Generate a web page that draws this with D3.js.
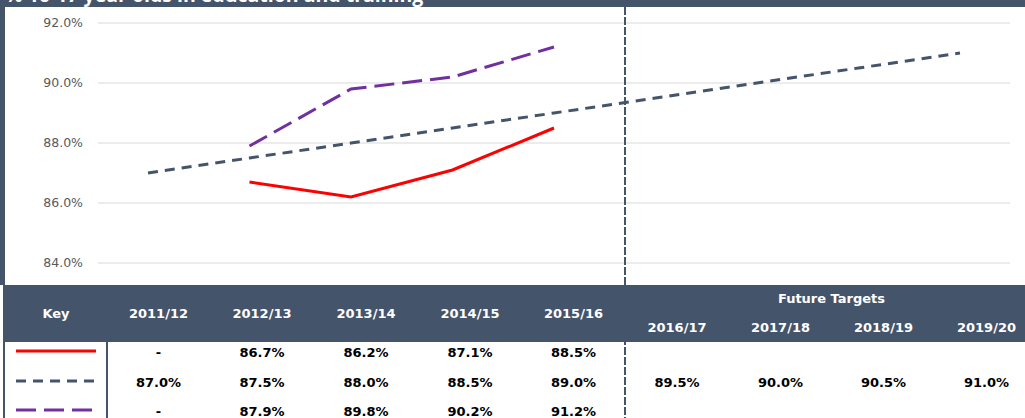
<!DOCTYPE html>
<html>
<head>
<meta charset="utf-8">
<script src="https://cdn.jsdelivr.net/npm/d3@7"></script>
<style>
  body { margin: 0; background: #fff; }
  svg { display: block; font-family: "Open Sans", "Noto Sans", sans-serif; }
</style>
</head>
<body>
<div id="chart"></div>
<script>
// Data
const years = ["2011/12", "2012/13", "2013/14", "2014/15", "2015/16", "2016/17", "2017/18", "2018/19", "2019/20"];
const actual = [null, 86.7, 86.2, 87.1, 88.5, null, null, null, null];
const target = [87.0, 87.5, 88.0, 88.5, 89.0, 89.5, 90.0, 90.5, 91.0];
const comparator = [null, 87.9, 89.8, 90.2, 91.2, null, null, null, null];
const yTicks = [84, 86, 88, 90, 92];
const titleText = "% 16-17 year olds in education and training";

const navy = "#44546a", red = "#ff0000", purple = "#7030a0";
const W = 1025, H = 418;
const tableFont = "'DejaVu Sans', sans-serif";

const svg = d3.select("#chart").append("svg")
    .attr("width", W)
    .attr("height", H);

// frame / title band
svg.append("rect").attr("x", 0).attr("y", 0).attr("width", W).attr("height", 7).attr("fill", navy);
svg.append("rect").attr("x", 0).attr("y", 0).attr("width", 5).attr("height", 285).attr("fill", navy);
svg.append("rect").attr("x", 3).attr("y", 285).attr("width", 2).attr("height", H - 285).attr("fill", navy);
svg.append("text")
    .attr("x", 5).attr("y", 2)
    .attr("fill", "#fff")
    .attr("font-weight", "bold")
    .attr("font-size", "19.5px")
    .text(titleText);

// scales
const x = d3.scalePoint().domain(years).range([148, 960]);
const y = d3.scaleLinear().domain([84, 92]).range([263, 23]);

// gridlines + y labels
const grid = svg.append("g");
grid.selectAll("line").data(yTicks).enter().append("line")
    .attr("x1", 98).attr("x2", 1010)
    .attr("y1", d => y(d)).attr("y2", d => y(d))
    .attr("stroke", "#d9d9d9").attr("stroke-width", 1);
grid.selectAll("text").data(yTicks).enter().append("text")
    .attr("x", 83).attr("y", d => y(d))
    .attr("dy", "0.35em")
    .attr("text-anchor", "end")
    .attr("font-family", tableFont)
    .attr("font-size", "12.5px")
    .attr("fill", "#595959")
    .text(d => d3.format(".1f")(d) + "%");

// lines
const line = d3.line()
    .defined(d => d.v != null)
    .x(d => x(d.year))
    .y(d => y(d.v));
const series = [
    {vals: target, color: navy, dash: "10,7"},
    {vals: actual, color: red, dash: null},
    {vals: comparator, color: purple, dash: "20,8"}
];
series.forEach(s => {
    svg.append("path")
        .datum(years.map((yr, i) => ({year: yr, v: s.vals[i]})))
        .attr("fill", "none")
        .attr("stroke", s.color)
        .attr("stroke-width", 3)
        .attr("stroke-dasharray", s.dash)
        .attr("d", line);
});

// table
const colEdges = [5, 107, 210, 314, 418, 522, 625, 729, 832, 935, 1038];
const colCenter = i => (colEdges[i] + colEdges[i + 1]) / 2;
const headTop = 285, headBottom = 342;
svg.append("rect").attr("x", 5).attr("y", headTop).attr("width", W - 5).attr("height", headBottom - headTop).attr("fill", navy);

const head = svg.append("g").attr("fill", "#fff").attr("font-weight", "bold")
    .attr("font-family", tableFont).attr("font-size", "13px").attr("text-anchor", "middle");
head.append("text").attr("x", colCenter(0)).attr("y", 313).attr("dy", "0.35em").text("Key");
years.forEach((yr, i) => {
    head.append("text")
        .attr("x", colCenter(i + 1))
        .attr("y", i < 5 ? 313 : 327)
        .attr("dy", "0.35em")
        .text(yr);
});
head.append("text").attr("x", (colEdges[6] + colEdges[10]) / 2).attr("y", 298).attr("dy", "0.35em").text("Future Targets");

// key column divider
svg.append("line").attr("x1", 107).attr("x2", 107).attr("y1", headBottom).attr("y2", H)
    .attr("stroke", navy).attr("stroke-width", 2);

const rows = [
    {vals: actual, color: red, dash: null, y: 352},
    {vals: target, color: navy, dash: "10,7", y: 382},
    {vals: comparator, color: purple, dash: "20,8", y: 411}
];
rows.forEach(r => {
    svg.append("line")
        .attr("x1", 16).attr("x2", 96)
        .attr("y1", r.y - 1).attr("y2", r.y - 1)
        .attr("stroke", r.color).attr("stroke-width", 3)
        .attr("stroke-dasharray", r.dash);
    svg.append("g").selectAll("text")
        .data(r.vals)
        .enter().append("text")
        .filter((d, i) => d != null || i < 5)
        .attr("x", (d, i) => colCenter(i + 1))
        .attr("y", r.y)
        .attr("dy", "0.35em")
        .attr("text-anchor", "middle")
        .attr("font-family", tableFont)
        .attr("font-weight", "bold")
        .attr("font-size", "13px")
        .attr("fill", "#000")
        .text(d => d == null ? "-" : d3.format(".1f")(d) + "%");
});

// divider between actuals and future targets
svg.append("line").attr("x1", 625).attr("x2", 625).attr("y1", 7).attr("y2", H)
    .attr("stroke", navy).attr("stroke-width", 2).attr("stroke-dasharray", "8,2");
</script>
</body>
</html>
